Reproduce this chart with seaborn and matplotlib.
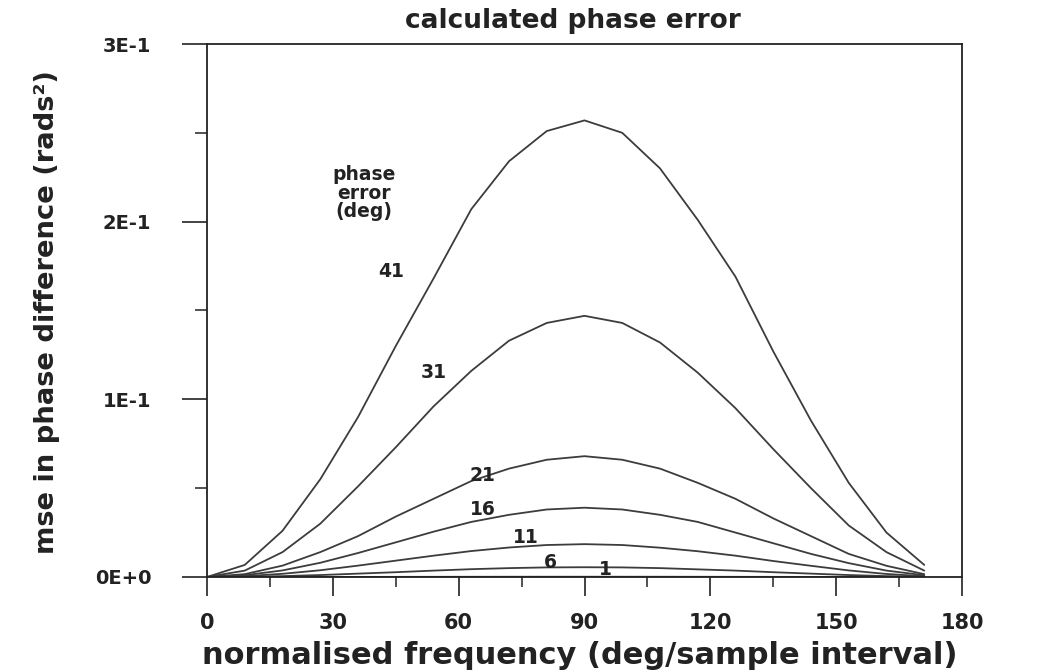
import matplotlib
matplotlib.use("Agg")
import matplotlib.pyplot as plt
import seaborn as sns
import pandas as pd
from matplotlib.ticker import MultipleLocator, FixedLocator

# ---- data ----
freq = [0, 9, 18, 27, 36, 45, 54, 63, 72, 81, 90, 99, 108, 117, 126, 135, 144, 153, 162, 171]
err41 = [0, 0.0068, 0.026, 0.055, 0.090, 0.130, 0.168, 0.207, 0.234, 0.251, 0.257,
         0.250, 0.230, 0.201, 0.169, 0.127, 0.088, 0.053, 0.025, 0.0068]
err31 = [0, 0.0036, 0.014, 0.030, 0.051, 0.073, 0.096, 0.116, 0.133, 0.143, 0.147,
         0.143, 0.132, 0.115, 0.095, 0.072, 0.050, 0.029, 0.014, 0.0036]
err21 = [0, 0.0016, 0.0064, 0.014, 0.023, 0.034, 0.044, 0.054, 0.061, 0.066, 0.068,
         0.066, 0.061, 0.053, 0.044, 0.033, 0.023, 0.013, 0.0063, 0.0016]
err16 = [0, 0.0010, 0.0037, 0.008, 0.0135, 0.0195, 0.0255, 0.031, 0.035, 0.038, 0.039,
         0.038, 0.035, 0.031, 0.025, 0.019, 0.013, 0.0078, 0.0036, 0.0010]
err11 = [0, 0.00045, 0.0018, 0.0038, 0.0064, 0.0092, 0.012, 0.0146, 0.0166, 0.018, 0.0185,
         0.018, 0.0165, 0.0145, 0.012, 0.009, 0.0063, 0.0037, 0.0017, 0.00045]
err6 = [0, 0.00013, 0.0005, 0.0011, 0.0019, 0.0027, 0.0036, 0.0044, 0.005, 0.0054, 0.0055,
        0.0054, 0.005, 0.0043, 0.0036, 0.0027, 0.0019, 0.0011, 0.0005, 0.00013]
err1 = [0, 0.00001, 0.00002, 0.00003, 0.00005, 0.00008, 0.0001, 0.00012, 0.00014, 0.00015, 0.00015,
        0.00015, 0.00014, 0.00012, 0.0001, 0.00008, 0.00005, 0.00003, 0.00002, 0.00001]
series_names = ["41", "31", "21", "16", "11", "6", "1"]
series_values = [err41, err31, err21, err16, err11, err6, err1]

y_ticks = [0.0, 0.1, 0.2, 0.3]
y_tick_labels = ["0E+0", "1E-1", "2E-1", "3E-1"]
x_ticks = [0, 30, 60, 90, 120, 150, 180]

rows = []
for name, vals in zip(series_names, series_values):
    for f, v in zip(freq, vals):
        rows.append({"freq": f, "mse": v, "err": name})
df = pd.DataFrame(rows)

sns.set_theme(style="ticks")
plt.rcParams["font.family"] = ["DejaVu Sans"]

INK = "#222222"
fig = plt.figure(figsize=(10.4, 6.72), dpi=100)
ax = fig.add_axes([207 / 1040, 1 - 577 / 672, (962 - 207) / 1040, (577 - 44) / 672])

sns.lineplot(data=df, x="freq", y="mse", hue="err", hue_order=series_names,
             palette=["#3c3c3c"] * len(series_names), linewidth=1.3, legend=False,
             sort=False, estimator=None, ax=ax)

ax.set_xlim(0, 180)
ax.set_ylim(0, 0.3)
ax.xaxis.set_major_locator(FixedLocator(x_ticks))
ax.xaxis.set_minor_locator(MultipleLocator(15))
ax.yaxis.set_major_locator(FixedLocator(y_ticks))
ax.yaxis.set_minor_locator(MultipleLocator(0.05))
ax.set_yticklabels(y_tick_labels)
ax.set_xticklabels([str(t) for t in x_ticks])

for sp in ax.spines.values():
    sp.set_visible(True)
    sp.set_color(INK)
    sp.set_linewidth(1.3)

ax.tick_params(axis="y", which="major", direction="out", length=18, width=1.2,
               color=INK, pad=22, labelsize=14, labelcolor=INK)
ax.tick_params(axis="y", which="minor", direction="out", length=9, width=1.1, color=INK)
ax.tick_params(axis="x", which="major", direction="out", length=14, width=1.2,
               color=INK, pad=12, labelsize=15, labelcolor=INK)
ax.tick_params(axis="x", which="minor", direction="out", length=7, width=1.1, color=INK)
for lab in ax.get_xticklabels() + ax.get_yticklabels():
    lab.set_fontweight("bold")

ax.set_xlabel("")
ax.set_ylabel("")
fig.text(580 / 1040, 1 - 655 / 672, "normalised frequency (deg/sample interval)",
         fontsize=22, fontweight="bold", color=INK, ha="center", va="center")
fig.text(573 / 1040, 1 - 21 / 672, "calculated phase error", fontsize=19,
         fontweight="bold", color=INK, ha="center", va="center")

ylab = fig.text(47 / 1040, 1 - 312 / 672, "mse in phase difference (rads²)",
                rotation=90, ha="center", va="center", fontsize=24, fontweight="bold",
                family=["DejaVu Sans Condensed", "Liberation Sans Narrow", "DejaVu Sans"],
                color=INK)
fig.canvas.draw()
bb = ylab.get_window_extent(fig.canvas.get_renderer())
ylab.set_fontsize(24 * 485 / bb.height)

label_pos = {"41": (44, 0.172), "31": (54, 0.115), "21": (65.7, 0.057),
             "16": (65.7, 0.038), "11": (76, 0.0225), "6": (81.8, 0.0079), "1": (95, 0.004)}
for name in series_names:
    x, y = label_pos[name]
    ax.text(x, y, name, ha="center", va="center", fontsize=13.5, fontweight="bold", color=INK)
ax.text(37.5, 0.216, "phase\nerror\n(deg)", ha="center", va="center", fontsize=13.5,
        fontweight="bold", color=INK, linespacing=0.95)

fig.savefig("out.png", dpi=100, facecolor="white")
